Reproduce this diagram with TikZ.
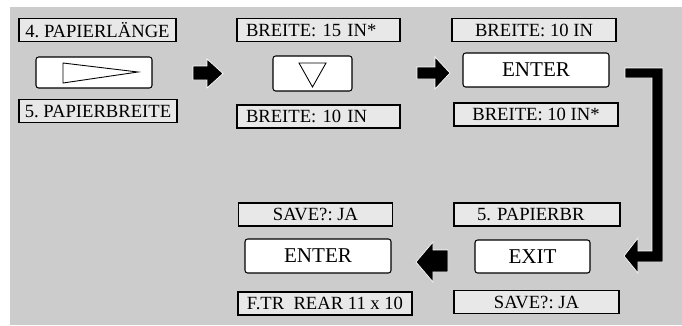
\documentclass[tikz,border=0pt]{standalone}
\usepackage{fontspec}
\setmainfont{Liberation Serif}
\usepackage{xcolor}
\definecolor{panelgray}{RGB}{204, 204, 204}
\definecolor{lcdgray}{RGB}{232, 232, 232}
\frenchspacing

\begin{document}
\begin{tikzpicture}[x=0.02cm, y=-0.02cm,
    lcd/.style={draw=black, fill=lcdgray, line width=0.6pt, minimum height=0.46cm,
      inner ysep=0pt, font=\fontsize{10.6}{12}\selectfont},
    key/.style={draw=black, fill=white, line width=0.6pt, rounded corners=1.5pt,
      inner sep=0pt, font=\fontsize{12}{14}\selectfont},
    fatarrow/.style={fill=black, draw=white, line width=0.4pt}]
  \useasboundingbox (0,0) rectangle (682,325);
  \fill[panelgray] (10,7) rectangle (682,325);

  %first column
  \node[lcd, minimum width=3.14cm] (len) at (97.5,30) {4. PAPIERLÄNGE};
  \node[key, minimum width=2.32cm, minimum height=0.62cm] (right) at (94,72.5) {};
  \draw[line width=0.5pt] (right.center) ++(-31,-9.5) -- ++(0,20) -- ++(75,-11) -- cycle;
  \node[lcd, minimum width=3.16cm] (width) at (98,111) {5. PAPIERBREITE};

  %second column
  \node[lcd, text width=2.9cm, inner xsep=0.18cm, align=left] (wa) at (318.5,30) {BREITE: 15 IN*};
  \node[key, minimum width=1.58cm, minimum height=0.7cm] (down) at (312.5,73.5) {};
  \draw[line width=0.5pt] (down.center) ++(-13.5,-10.5) -- ++(27,0) -- ++(-13.5,24) -- cycle;
  \node[lcd, text width=2.9cm, inner xsep=0.18cm, align=left] (wb) at (318.5,116.5) {BREITE: 10 IN};

  %third column
  \node[lcd, minimum width=3.28cm] (wc) at (534,30) {BREITE: 10 IN};
  \node[key, minimum width=2.92cm, minimum height=0.68cm] (enter) at (536,70) {ENTER};
  \node[lcd, minimum width=3.28cm] (wd) at (536,114.5) {BREITE: 10 IN*};

  %lower right
  \node[lcd, text width=2.4cm, inner xsep=0.46cm, align=left] (br) at (537,214.5) {5. PAPIERBR};
  \node[key, minimum width=2.3cm, minimum height=0.66cm] (exit) at (532.5,256.5) {EXIT};
  \node[lcd, minimum width=3.3cm] (savea) at (536.5,302) {SAVE?: JA};

  %lower middle
  \node[lcd, minimum width=3.08cm] (saveb) at (315.5,214.5) {SAVE?: JA};
  \node[key, minimum width=2.92cm, minimum height=0.68cm] (enterb) at (318,256) {ENTER};
  \node[lcd, minimum width=3.48cm, inner xsep=2pt] (ftr) at (325,303.5) {F.TR\ \ REAR 11 x 10};

  %arrows
  \draw[fatarrow] (193,66) -- (207,66) -- (207,59) -- (223,73.5) -- (207,88) -- (207,80) -- (193,80) -- cycle;
  \draw[fatarrow] (417,67) -- (435,67) -- (435,57) -- (450,73) -- (435,89) -- (435,79) -- (417,79) -- cycle;
  \draw[fatarrow] (625,68) -- (663,68) -- (663,262) -- (638,262) -- (638,273) -- (624,256)
    -- (638,238) -- (638,251) -- (652,251) -- (652,78) -- (625,78) -- cycle;
  \draw[fatarrow] (448,250) -- (433,250) -- (433,242) -- (416,262) -- (433,282) -- (433,272) -- (448,272) -- cycle;
\end{tikzpicture}
\end{document}
